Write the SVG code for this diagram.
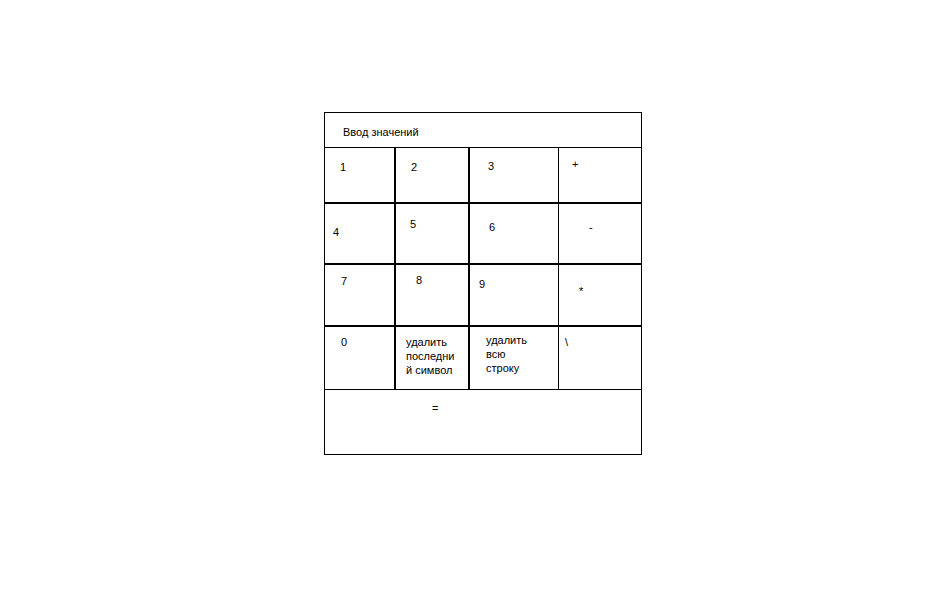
<svg xmlns="http://www.w3.org/2000/svg" width="940" height="603" viewBox="0 0 940 603">
<style>
text{font-family:"Liberation Sans",Arial,sans-serif;font-size:11px;fill:#000}
.thin{stroke:#000;stroke-width:1;fill:none}
.thick{stroke:#000;stroke-width:2;fill:none}
</style>
<rect width="940" height="603" fill="#fff"/>
<g id="grid">
<rect class="thin" x="324.5" y="112.5" width="317" height="342"/>
<line class="thin" x1="324" y1="147.5" x2="642" y2="147.5"/>
<line class="thick" x1="324" y1="203" x2="642" y2="203"/>
<line class="thick" x1="324" y1="264" x2="642" y2="264"/>
<line class="thick" x1="324" y1="326" x2="642" y2="326"/>
<line class="thin" x1="324" y1="389.5" x2="642" y2="389.5"/>
<line class="thick" x1="395" y1="147" x2="395" y2="389"/>
<line class="thick" x1="469" y1="147" x2="469" y2="389"/>
<line class="thin" x1="558.5" y1="147" x2="558.5" y2="389"/>
</g>
<g id="header"><text x="343" y="136">Ввод значений</text></g>
<g id="k1"><text x="340" y="171">1</text></g>
<g id="k2"><text x="411" y="171">2</text></g>
<g id="k3"><text x="488" y="170">3</text></g>
<g id="kplus"><text x="572" y="168">+</text></g>
<g id="k4"><text x="333" y="236">4</text></g>
<g id="k5"><text x="410" y="228">5</text></g>
<g id="k6"><text x="489" y="231">6</text></g>
<g id="kminus"><text x="589" y="231">-</text></g>
<g id="k7"><text x="341" y="285">7</text></g>
<g id="k8"><text x="416" y="284">8</text></g>
<g id="k9"><text x="479" y="288">9</text></g>
<g id="kmul"><text x="579" y="295">*</text></g>
<g id="k0"><text x="341" y="346">0</text></g>
<g id="kdel"><text x="406" y="346">удалить</text><text x="406" y="360">последни</text><text x="406" y="374">й символ</text></g>
<g id="kclr"><text x="486" y="344">удалить</text><text x="486" y="358">всю</text><text x="486" y="372">строку</text></g>
<g id="kdiv"><text x="565" y="346">\</text></g>
<g id="keq"><text x="432" y="412">=</text></g>
</svg>
